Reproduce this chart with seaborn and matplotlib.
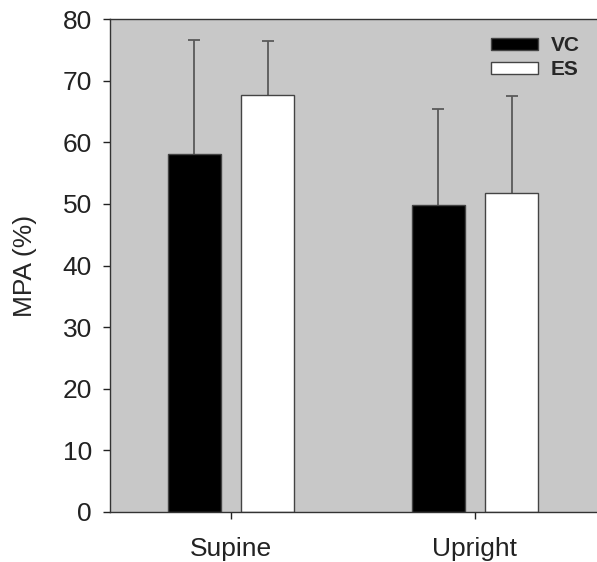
import matplotlib
matplotlib.use("Agg")
import matplotlib.pyplot as plt
import seaborn as sns
import pandas as pd
import numpy as np

positions = ["Supine", "Upright"]
groups = ["VC", "ES"]
vc_mean = [58.1, 49.9]
es_mean = [67.7, 51.8]
vc_sd = [18.5, 15.5]
es_sd = [8.7, 15.8]

sns.set_theme(style="white")
plt.rcParams['font.family'] = ['Liberation Sans', 'DejaVu Sans']

df = pd.DataFrame({
    "position": positions * 2,
    "group": ["VC"] * 2 + ["ES"] * 2,
    "mpa": vc_mean + es_mean,
    "sd": vc_sd + es_sd,
})

fig = plt.figure(figsize=(5.97, 5.62), dpi=100)
ax = fig.add_axes([0.184, 0.089, 0.816, 0.877])
ax.set_facecolor("#c8c8c8")

sns.barplot(data=df, x="position", y="mpa", hue="group", order=positions,
            hue_order=groups, palette={"VC": "black", "ES": "white"},
            width=0.6, gap=0.28, errorbar=None, edgecolor="#444444",
            linewidth=1.0, ax=ax, zorder=2)

# upward-only error bars at bar centres (drawn beneath the bars)
for cont, g in zip(ax.containers, groups):
    sub = df[df.group == g].set_index("position").loc[positions]
    xs = [p.get_x() + p.get_width() / 2 for p in cont.patches]
    _, caps, _ = ax.errorbar(xs, sub["mpa"].values,
                             yerr=[np.zeros(len(xs)), sub["sd"].values],
                             fmt="none", ecolor="#5a5a5a", elinewidth=1.3,
                             capsize=4, capthick=1.3, zorder=1)
    if len(caps) == 2:
        caps[0].set_visible(False)

ax.set_ylim(0, 80)
ax.set_xlim(-0.496, 1.5)
ax.set_yticks(range(0, 81, 10))
ax.tick_params(axis="both", labelsize=19, length=5, width=1, direction="out",
               left=True, bottom=True, colors="#222222")
ax.tick_params(axis="x", pad=13)
ax.tick_params(axis="y", pad=8)
ax.set_xlabel("")
ax.set_ylabel("MPA (%)", fontsize=19, labelpad=18)
for s in ["left", "bottom", "top"]:
    ax.spines[s].set_color("#333333")
    ax.spines[s].set_linewidth(1.0)
ax.spines["right"].set_visible(False)

leg = ax.legend(loc="upper right", frameon=False, handlelength=2.3,
                handleheight=0.5, prop={"weight": "bold", "size": 15},
                borderaxespad=0.3, labelspacing=0.25, handletextpad=0.6,
                bbox_to_anchor=(0.995, 0.995))
leg.set_title(None)

fig.savefig("out.png", dpi=100)
